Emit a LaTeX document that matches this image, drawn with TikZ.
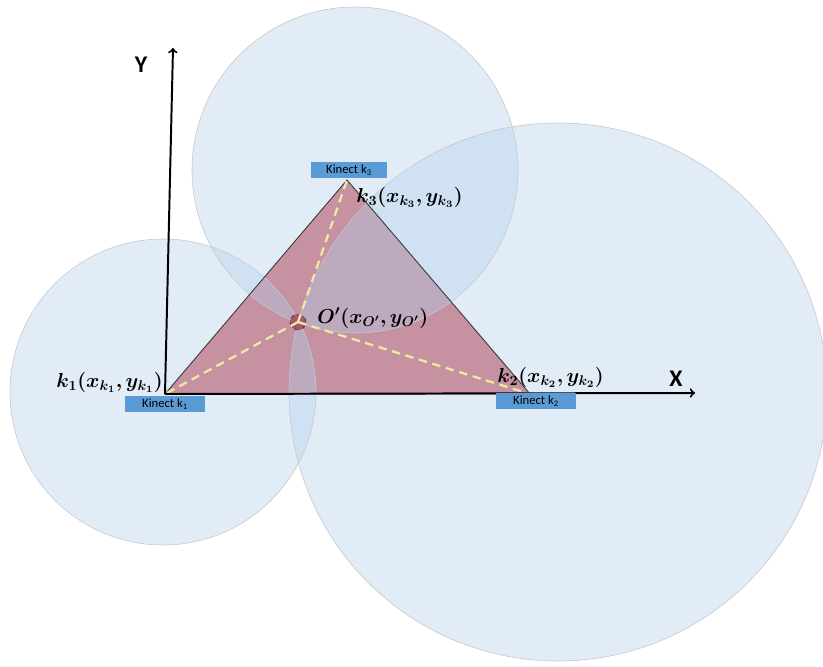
\documentclass[tikz,border=0pt]{standalone}
\usepackage{fontspec}
\setsansfont{Carlito}
\usepackage{bm}
\usetikzlibrary{positioning}
\definecolor{zonefill}{RGB}{180,208,235}
\definecolor{trifill}{RGB}{210,105,112}
\definecolor{kinectblue}{RGB}{91,155,213}
\definecolor{dashyellow}{RGB}{236,236,160}
\definecolor{origred}{RGB}{150,30,60}

\begin{document}
\begin{tikzpicture}[x=0.025cm, y=-0.025cm,
    zone/.style={fill=zonefill, fill opacity=0.4, draw=gray!45, thin},
    kinectbox/.style={rectangle, fill=kinectblue, minimum width=2cm, minimum height=0.41cm, inner sep=0pt, font=\sffamily\fontsize{9}{10}\selectfont},
    coordlabel/.style={font=\fontsize{14.5}{17}\selectfont, inner sep=0pt},
    axislabel/.style={font=\sffamily\bfseries\fontsize{17}{20}\selectfont, inner sep=0pt},
    ray/.style={draw=dashyellow, line width=1.6pt, dash pattern=on 6pt off 4pt}]
    \useasboundingbox (0,0) rectangle (823,666);

    % --- sensors ---
    \coordinate (k1) at (165,394);
    \coordinate (k2) at (530,394);
    \coordinate (k3) at (347,180);

    % triangle
    \fill[trifill] (k1) -- (k2) -- (k3) -- cycle;

    % coverage circles
    \filldraw[zone] (163,392) circle [radius=153];
    \filldraw[zone] (355,170) circle [radius=163];
    \filldraw[zone] (558,392) circle [radius=269];

    \draw[black!80, semithick] (k1) -- (k2) -- (k3) -- cycle;

    % --- O' ---
    \node[circle, draw=black!80, dashed, fill=origred, fill opacity=0.6, draw opacity=1, minimum size=0.4cm, inner sep=0pt] (O) at (298,322) {};
    \draw[ray] (O.center) -- (k1);
    \draw[ray] (O.center) -- (k2);
    \draw[ray] (O.center) -- (k3);

    % axes
    \draw[->, line width=1.4pt] (k1) -- (695,393) coordinate (xend);
    \draw[->, line width=1.4pt] (k1) -- (173,48) coordinate (yend);
    \node[axislabel] (xl) at (676,379) {X};
    \node[axislabel] (yl) at (141,65) {Y};

    % labels
    \node[coordlabel, anchor=base east] (l1) at (163,387) {$\bm{k_1(x_{k_1},y_{k_1})}$};
    \node[coordlabel, anchor=base west] (l2) at (497,382) {$\bm{k_2(x_{k_2},y_{k_2})}$};
    \node[coordlabel, anchor=base west] (l3) at (356,202) {$\bm{k_3(x_{k_3},y_{k_3})}$};
    \node[coordlabel, anchor=base west] (lo) at (317,323) {$\bm{O'(x_{O'},y_{O'})}$};

    % kinect boxes
    \node[kinectbox] (b1) at (165,404) {Kinect k\textsubscript{1}};
    \node[kinectbox] (b2) at (536,401) {Kinect k\textsubscript{2}};
    \node[kinectbox, minimum width=1.88cm, minimum height=0.38cm] (b3) at (349,170) {Kinect k\textsubscript{3}};
\end{tikzpicture}
\end{document}
